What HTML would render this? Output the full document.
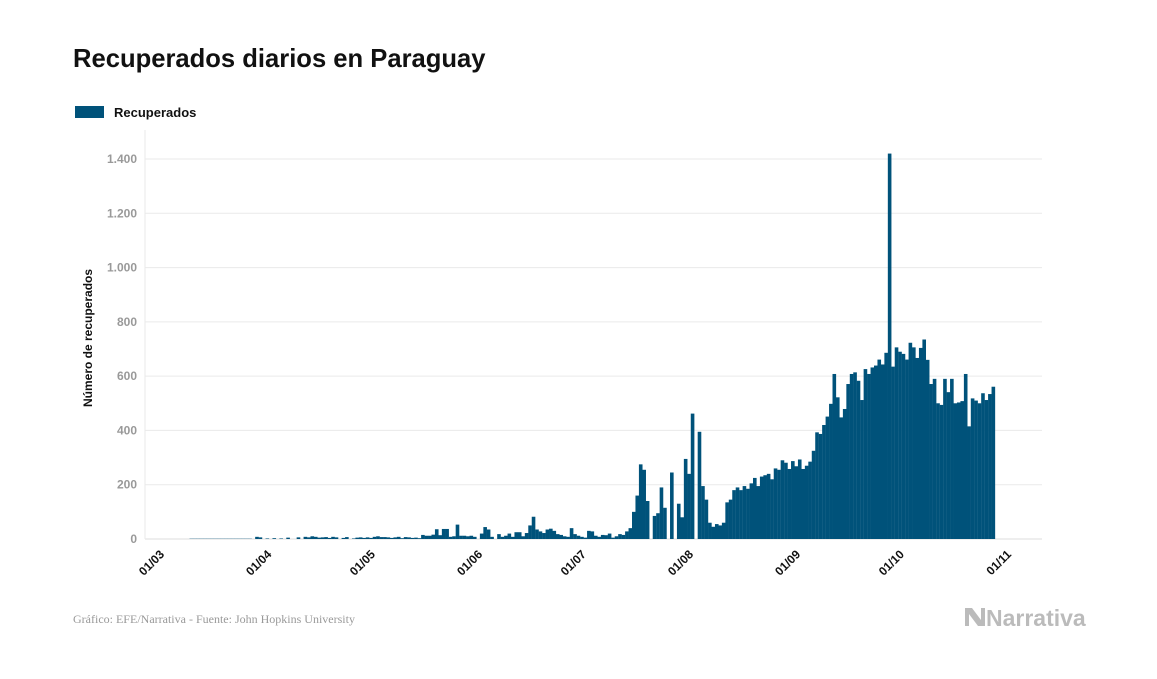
<!DOCTYPE html>
<html><head><meta charset="utf-8">
<style>
body{margin:0;background:#fff;width:1157px;height:674px;overflow:hidden;font-family:"Liberation Sans",sans-serif}
</style></head>
<body>
<svg id="chart" width="1157" height="674" xmlns="http://www.w3.org/2000/svg">
<text x="73" y="67" font-size="25.6" font-weight="bold" fill="#111">Recuperados diarios en Paraguay</text>
<rect x="75" y="106" width="29" height="12" fill="#00527a"/>
<text x="114" y="117" font-size="13" font-weight="bold" fill="#111">Recuperados</text>
<text transform="translate(92,338) rotate(-90)" text-anchor="middle" font-size="12" font-weight="bold" fill="#111">Número de recuperados</text>
<g id="grid"></g><g id="bars"></g><g id="xlabels"></g>
<text x="73" y="623" font-family="Liberation Serif,serif" font-size="12" fill="#999">Gráfico: EFE/Narrativa - Fuente: John Hopkins University</text>
<g>
<path d="M965 608 L972 608 L981 620 L981 608 L985 608 L985 626 L978 626 L969 614 L969 626 L965 626 Z" fill="#bbb"/>
<text x="986" y="626" font-size="23" font-weight="bold" fill="#bbb">Narrativa</text>
</g>
</svg>
<script>
const yTicks=[0,200,400,600,800,1000,1200,1400];
const yTickLabels=["0","200","400","600","800","1.000","1.200","1.400"];
const xTickDays=[0,31,61,92,122,153,184,214,245];
const xTickLabels=["01/03","01/04","01/05","01/06","01/07","01/08","01/09","01/10","01/11"];
const marValues=[0,0,0,0,0,0,0,0,0,0,0,0,1,1,1,1,1,1,1,1,1,1,1,1,1,1,1,1,1,1,0];
const aprValues=[8,6,0,2,0,3,0,2,0,5,0,0,6,0,8,6,10,8,5,6,7,4,8,6,0,4,7,0,2,5];
const mayValues=[6,4,6,4,8,10,7,7,6,4,6,8,3,7,6,4,5,3,15,12,12,16,36,14,37,37,8,10,53,12,12];
const junValues=[10,12,8,0,20,44,35,8,0,18,8,12,20,8,25,25,10,22,50,82,35,28,22,35,38,30,18,15,10,8];
const julValues=[40,18,12,8,5,30,28,12,8,15,14,20,5,10,18,15,28,40,100,160,275,255,140,0,85,95,190,115,0,245,0];
const augValues=[130,80,295,240,462,0,395,195,145,60,45,55,50,60,135,145,180,190,180,195,185,205,225,195,230,235,240,220,260,255,290];
const sepValues=[281,258,287,268,293,258,270,285,325,393,387,420,451,498,608,522,448,479,571,608,614,583,512,626,608,632,639,661,643,686];
const octValues=[1420,635,706,690,682,661,723,706,667,704,735,660,571,590,500,494,590,541,590,500,503,508,608,415,518,510,500,537,512,534,561];
const values=[].concat(marValues,aprValues,mayValues,junValues,julValues,augValues,sepValues,octValues);
const NS="http://www.w3.org/2000/svg";
const X0=148,X1=995,Y0=539,Y1=159,totalDays=245;
const xs=d=>X0+(X1-X0)*d/totalDays;
const ys=v=>Y0-(Y0-Y1)*v/1400;
const grid=document.getElementById('grid');
yTicks.forEach((t,i)=>{
  const l=document.createElementNS(NS,'line');
  l.setAttribute('x1',145);l.setAttribute('x2',1042);
  l.setAttribute('y1',ys(t));l.setAttribute('y2',ys(t));
  l.setAttribute('stroke',t===0?'#ddd':'#eaeaea');l.setAttribute('stroke-width',1);
  
  
  grid.appendChild(l);
  const tx=document.createElementNS(NS,'text');
  tx.setAttribute('x',137);tx.setAttribute('y',ys(t)+4);
  tx.setAttribute('text-anchor','end');tx.setAttribute('font-size','12');
  tx.setAttribute('font-weight','bold');tx.setAttribute('fill','#999');
  tx.textContent=yTickLabels[i];
  
  
  grid.appendChild(tx);
});
const axl=document.createElementNS(NS,'line');
axl.setAttribute('x1',145);axl.setAttribute('x2',145);axl.setAttribute('y1',130);axl.setAttribute('y2',539);
axl.setAttribute('stroke','#eaeaea');


grid.appendChild(axl);
const bars=document.getElementById('bars');
const w=(X1-X0)/totalDays;
values.forEach((v,i)=>{
  if(v<=0)return;
  const r=document.createElementNS(NS,'rect');
  r.setAttribute('x',xs(i));r.setAttribute('width',w+0.15);
  r.setAttribute('y',ys(v));r.setAttribute('height',Y0-ys(v));
  r.setAttribute('fill','#00527a');
  
  
  bars.appendChild(r);
});
const xl=document.getElementById('xlabels');
xTickDays.forEach((d,i)=>{
  const t=document.createElementNS(NS,'text');
  const x=xs(d)+17,y=555;
  t.setAttribute('transform',`translate(${x},${y}) rotate(-45)`);
  t.setAttribute('text-anchor','end');t.setAttribute('font-size','12');
  t.setAttribute('font-weight','bold');t.setAttribute('fill','#111');
  t.textContent=xTickLabels[i];
  
  
  xl.appendChild(t);
});
</script>
</body></html>
